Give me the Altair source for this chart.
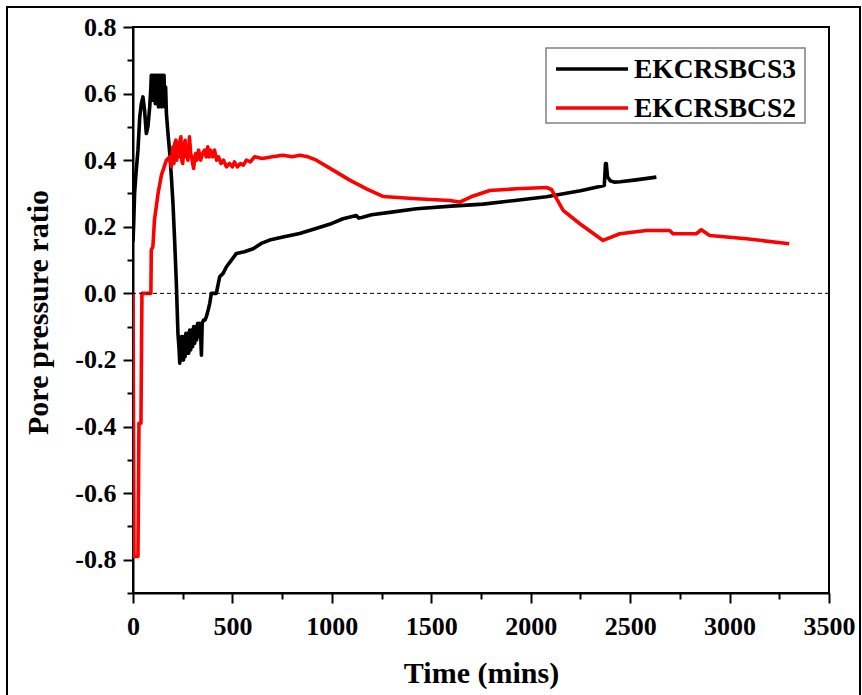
import altair as alt
import pandas as pd

# ---------------- data ----------------
series_names = ["EKCRSBCS3", "EKCRSBCS2"]
series_colors = ["#000000", "#ff0000"]

black_t = [0, 4, 8, 15, 25, 34, 42, 50, 58, 67, 75, 84, 90, 92, 96, 100, 104, 108, 112, 116,
           120, 124, 128, 132, 136, 140, 144, 148, 152, 156, 160, 164, 168, 176, 185, 193, 201,
           210, 218, 226, 232, 235, 238, 241, 244, 247, 250, 254, 258, 262, 266, 270, 275, 280,
           285, 290, 295, 300, 305, 310, 315, 320, 325, 330, 335, 340, 344, 348, 355, 362, 369,
           378, 386, 394, 405, 419, 436, 453, 470, 495, 520, 560, 604, 645, 687, 760, 838, 920,
           1000, 1056, 1123, 1135, 1150, 1200, 1300, 1425, 1600, 1760, 1920, 2079, 2250, 2370,
           2376, 2380, 2386, 2400, 2420, 2450, 2520, 2632]
black_v = [0.155, 0.22, 0.30, 0.36, 0.43, 0.53, 0.57, 0.59, 0.55, 0.48, 0.50, 0.56, 0.62, 0.655,
           0.58, 0.655, 0.60, 0.655, 0.57, 0.655, 0.59, 0.655, 0.56, 0.655, 0.58, 0.655, 0.56,
           0.655, 0.58, 0.655, 0.56, 0.62, 0.54, 0.48, 0.42, 0.35, 0.27, 0.15, 0.03, -0.12, -0.17,
           -0.21, -0.14, -0.20, -0.13, -0.19, -0.13, -0.20, -0.13, -0.19, -0.12, -0.18, -0.12,
           -0.18, -0.11, -0.17, -0.11, -0.16, -0.10, -0.15, -0.10, -0.14, -0.09, -0.13, -0.09,
           -0.12, -0.186, -0.09, -0.08, -0.08, -0.07, -0.05, -0.03, 0.0, 0.0, 0.0, 0.05, 0.06,
           0.08, 0.10, 0.12, 0.125, 0.134, 0.15, 0.16, 0.17, 0.18, 0.195, 0.21, 0.224, 0.234,
           0.226, 0.228, 0.236, 0.244, 0.254, 0.262, 0.268, 0.279, 0.290, 0.308, 0.324, 0.39,
           0.39, 0.35, 0.338, 0.334, 0.335, 0.34, 0.349]

red_t = [0, 5, 25, 30, 40, 45, 90, 92, 100, 108, 126, 143, 168, 185, 192, 201, 206, 210, 216,
         220, 225, 230, 233, 241, 245, 250, 256, 262, 266, 270, 276, 284, 290, 295, 300, 305,
         309, 315, 320, 330, 340, 350, 360, 368, 376, 383, 390, 400, 410, 420, 430, 443, 455,
         470, 485, 500, 510, 525, 540, 555, 570, 590, 611, 650, 700, 754, 800, 838, 880, 922,
         1006, 1090, 1174, 1257, 1425, 1593, 1643, 1700, 1794, 1928, 2080, 2104, 2163, 2247,
         2364, 2448, 2582, 2699, 2716, 2833, 2858, 2900, 3085, 3300]
red_v = [0.0, -0.79, -0.79, -0.39, -0.39, 0.0, 0.0, 0.13, 0.14, 0.22, 0.30, 0.355, 0.40, 0.41,
         0.38, 0.44, 0.39, 0.45, 0.46, 0.40, 0.45, 0.41, 0.45, 0.47, 0.40, 0.39, 0.44, 0.46,
         0.41, 0.44, 0.40, 0.47, 0.42, 0.41, 0.39, 0.375, 0.40, 0.42, 0.40, 0.43, 0.40, 0.42,
         0.43, 0.41, 0.44, 0.41, 0.43, 0.41, 0.43, 0.40, 0.41, 0.39, 0.40, 0.38, 0.39, 0.38,
         0.395, 0.38, 0.39, 0.385, 0.40, 0.395, 0.41, 0.405, 0.41, 0.415, 0.41, 0.415, 0.41,
         0.40, 0.37, 0.34, 0.314, 0.291, 0.284, 0.279, 0.274, 0.29, 0.309, 0.314, 0.318, 0.312,
         0.249, 0.209, 0.159, 0.179, 0.189, 0.189, 0.179, 0.179, 0.191, 0.174, 0.164, 0.149]

x_major = [0, 500, 1000, 1500, 2000, 2500, 3000, 3500]
x_minor = [250, 750, 1250, 1750, 2250, 2750, 3250]
y_major = [-0.8, -0.6, -0.4, -0.2, 0.0, 0.2, 0.4, 0.6, 0.8]
y_minor = [-0.9, -0.7, -0.5, -0.3, -0.1, 0.1, 0.3, 0.5, 0.7]
zero_line = [0.0]

FONT = "Liberation Serif"

rows = []
for i, (t, v) in enumerate(zip(black_t, black_v)):
    rows.append({"series": series_names[0], "t": t, "v": v, "order": i})
for i, (t, v) in enumerate(zip(red_t, red_v)):
    rows.append({"series": series_names[1], "t": t, "v": v, "order": i})
df = pd.DataFrame(rows)

xscale = alt.Scale(domain=[0, 3500], nice=False, zero=False)
yscale = alt.Scale(domain=[-0.9, 0.8], nice=False, zero=False)

y_label_expr = "datum.value < 0 ? '-' + format(-datum.value, '.1f') : format(datum.value, '.1f')"

x_axis_major = alt.Axis(values=x_major, orient="bottom", title="Time (mins)", format="d",
                        tickSize=10, labelPadding=10, labelFlush=False, labelOverlap=False,
                        titleY=89, titleBaseline="alphabetic", grid=False)
y_axis_major = alt.Axis(values=y_major, orient="left", title="Pore pressure ratio",
                        labelExpr=y_label_expr, tickSize=10, labelPadding=7, labelOverlap=False,
                        titleX=-86, titleY=285, titleAngle=-90, titleBaseline="alphabetic",
                        grid=False)
x_axis_minor = alt.Axis(values=x_minor, orient="bottom", title=None, labels=False, domain=False,
                        tickSize=6, grid=False)
y_axis_minor = alt.Axis(values=y_minor, orient="left", title=None, labels=False, domain=False,
                        tickSize=6, grid=False)

lines = alt.Chart(df).mark_line(strokeWidth=3.6, strokeJoin="round", clip=True).encode(
    x=alt.X("t:Q", scale=xscale, axis=x_axis_major),
    y=alt.Y("v:Q", scale=yscale, axis=y_axis_major),
    color=alt.Color("series:N", scale=alt.Scale(domain=series_names, range=series_colors),
                    legend=None),
    order=alt.Order("order:Q"),
)

minor = alt.Chart(df).mark_point(opacity=0).encode(
    x=alt.X("t:Q", scale=xscale, axis=x_axis_minor),
    y=alt.Y("v:Q", scale=yscale, axis=y_axis_minor),
)

zero = alt.Chart(pd.DataFrame({"y": zero_line})).mark_rule(
    color="black", strokeWidth=1, strokeDash=[4, 3]
).encode(y=alt.Y("y:Q", scale=yscale, axis=None))

# legend (drawn manually)
one = pd.DataFrame({"k": [0]})
leg_box = alt.Chart(one).mark_rect(filled=False, stroke="#808080", strokeWidth=1.5).encode(
    x=alt.value(413), x2=alt.value(672), y=alt.value(21), y2=alt.value(96))
leg_items = []
for name, col, yy in zip(series_names, series_colors, [42, 81]):
    d = pd.DataFrame({"name": [name]})
    leg_items.append(alt.Chart(d).mark_rule(color=col, strokeWidth=3.6).encode(
        x=alt.value(423), x2=alt.value(495), y=alt.value(yy)))
    leg_items.append(alt.Chart(d).mark_text(
        font=FONT, fontWeight="bold", fontSize=27.5, align="left", baseline="middle",
        color="black").encode(text="name:N", x=alt.value(501), y=alt.value(yy + 1)))

outer = alt.Chart(one).mark_rect(filled=False, stroke="black", strokeWidth=2).encode(
    x=alt.value(-126), x2=alt.value(727), y=alt.value(-20), y2=alt.value(720))

chart = alt.layer(lines, minor, zero, leg_box, *leg_items, outer).resolve_axis(
    x="independent", y="independent"
).properties(
    width=696, height=566,
    autosize=alt.AutoSizeParams(type="none"),
    padding={"left": 133, "top": 27, "right": 33, "bottom": 102},
    background="white",
).configure_view(
    stroke="black", strokeWidth=2
).configure_axis(
    domainColor="black", domainWidth=2, tickColor="black", tickWidth=2,
    labelFont=FONT, labelFontWeight="bold", labelFontSize=26, labelColor="black",
    titleFont=FONT, titleFontWeight="bold", titleFontSize=30, titleColor="black",
)

chart.save("out.html", embed_options={"renderer": "svg", "actions": False})
